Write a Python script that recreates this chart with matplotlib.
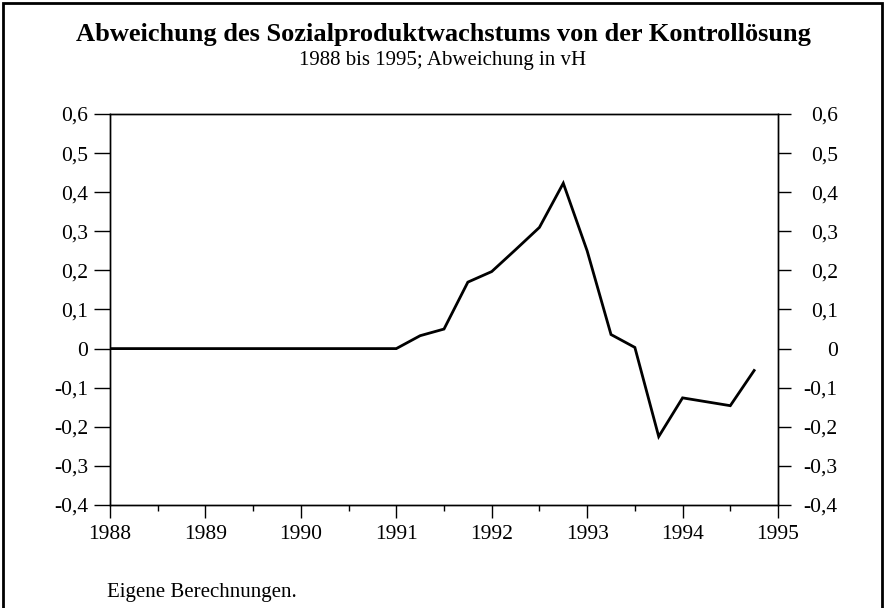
import matplotlib
matplotlib.use("Agg")
import matplotlib.pyplot as plt
from matplotlib.patches import Rectangle
from matplotlib.ticker import FuncFormatter, MultipleLocator

plt.rcParams['font.family'] = ['Liberation Serif', 'DejaVu Serif']

# quarterly deviation from control solution, in vH
quarters = [1988.0, 1988.25, 1988.5, 1988.75,
            1989.0, 1989.25, 1989.5, 1989.75,
            1990.0, 1990.25, 1990.5, 1990.75,
            1991.0, 1991.25, 1991.5, 1991.75,
            1992.0, 1992.25, 1992.5, 1992.75,
            1993.0, 1993.25, 1993.5, 1993.75,
            1994.0, 1994.25, 1994.5, 1994.75]
deviation = [0, 0, 0, 0,
             0, 0, 0, 0,
             0, 0, 0, 0,
             0, 0.033, 0.05, 0.17,
             0.197, 0.253, 0.31, 0.423,
             0.25, 0.036, 0.003, -0.225,
             -0.126, -0.136, -0.146, -0.056]

year_ticks = [1988, 1989, 1990, 1991, 1992, 1993, 1994, 1995]
y_ticks = [-0.4, -0.3, -0.2, -0.1, 0, 0.1, 0.2, 0.3, 0.4, 0.5, 0.6]

title = "Abweichung des Sozialproduktwachstums von der Kontrollösung"
subtitle = "1988 bis 1995; Abweichung in vH"
source = "Eigene Berechnungen."


def de_fmt(v, pos=None):
    if abs(v) < 1e-9:
        return "0"
    return ("%.1f" % v).replace(".", ",")


fig = plt.figure(figsize=(8.86, 6.08), dpi=100)
ax = fig.add_axes([110/886, 1 - 505/608, (778 - 110)/886, (505 - 114)/608])

ax.plot(quarters, deviation, color='black', lw=2.0, solid_joinstyle='miter')

ax.set_xlim(1988, 1995)
ax.set_ylim(-0.4, 0.6)
ax.set_xticks(year_ticks)
ax.set_xticklabels([str(y) for y in year_ticks])
ax.xaxis.set_minor_locator(MultipleLocator(0.5))
ax.set_yticks(y_ticks)
ax.yaxis.set_major_formatter(FuncFormatter(de_fmt))

for s in ax.spines.values():
    s.set_linewidth(1.0)

ax.tick_params(axis='x', which='major', direction='out', length=9.5, width=1.0,
               labelsize=15.5, pad=5)
ax.tick_params(axis='x', which='minor', direction='out', length=4.5, width=1.0)
ax.tick_params(axis='y', which='major', direction='out', length=11.5, width=1.0,
               labelsize=15.5, pad=4)

# right-hand axis with the same scale
ax2 = ax.twinx()
ax2.set_ylim(-0.4, 0.6)
ax2.set_yticks(y_ticks)
ax2.yaxis.set_major_formatter(FuncFormatter(de_fmt))
ax2.tick_params(axis='y', which='major', direction='out', length=9, width=1.0,
                labelsize=15.5, pad=34)
for lab in ax2.get_yticklabels():
    lab.set_horizontalalignment('right')
for s in ax2.spines.values():
    s.set_linewidth(1.0)

fig.text(0.5, 1 - 34/608, title, ha='center', va='center',
         fontsize=19, fontweight='bold')
fig.text(0.5, 1 - 61/608, subtitle, ha='center', va='center', fontsize=15)
fig.text(107/886, 1 - 592/608, source, ha='left', va='center', fontsize=15)

# frame round the whole figure
fig.patches.append(Rectangle((3/886, -0.05), 879/886, 1.0 - 3/608 + 0.05,
                             transform=fig.transFigure, fill=False,
                             edgecolor='black', lw=2.0))

fig.savefig("out.png", dpi=100)
